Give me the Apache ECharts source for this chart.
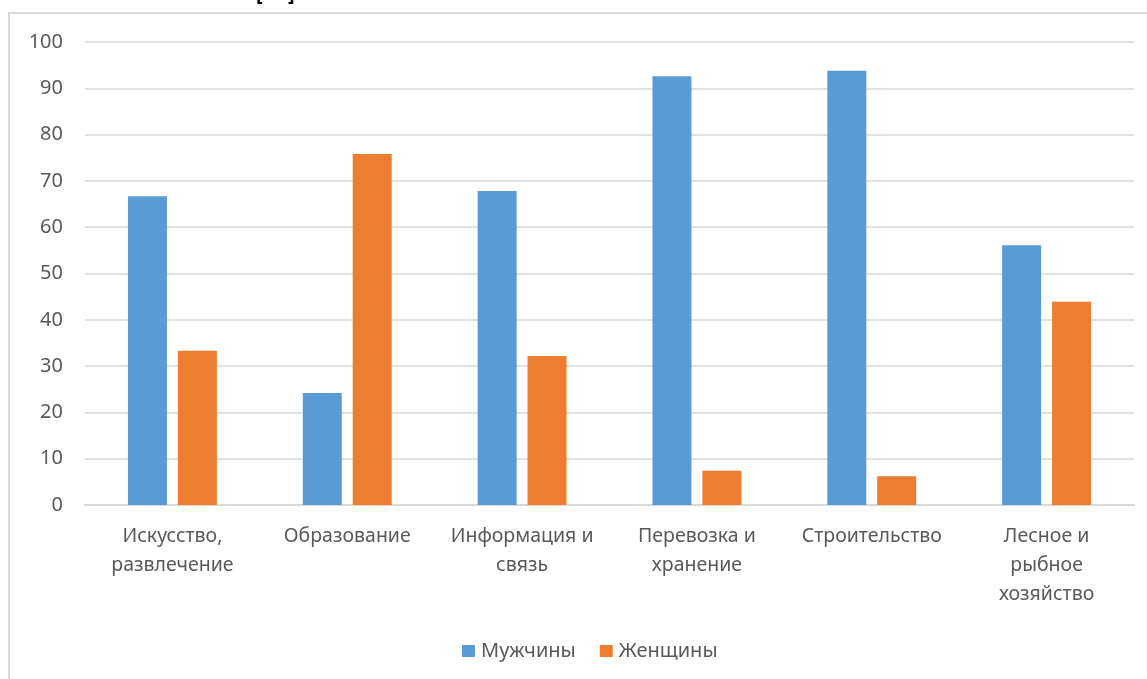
<!DOCTYPE html>
<html>
<head>
<meta charset="utf-8">
<script src="https://cdn.jsdelivr.net/npm/echarts@6/dist/echarts.min.js"></script>
<style>
html,body{margin:0;padding:0;background:#fff;}
#chart{width:1147px;height:679px;}
</style>
</head>
<body>
<div id="chart"></div>
<script>
const categories = ['Искусство,\nразвлечение', 'Образование', 'Информация и\nсвязь', 'Перевозка и\nхранение', 'Строительство', 'Лесное и\nрыбное\nхозяйство'];
const seriesNames = ['Мужчины', 'Женщины'];
const men = [66.7, 24.2, 67.8, 92.6, 93.8, 56.1];
const women = [33.3, 75.8, 32.2, 7.4, 6.2, 43.9];

const chart = echarts.init(document.getElementById('chart'));
const textColor = '#595959';
const font = '"Noto Sans", sans-serif';
chart.setOption({
  animation: false,
  backgroundColor: '#fff',
  graphic: [
    {type: 'rect', shape: {x: 9, y: 13, width: 1300, height: 800}, style: {fill: 'none', stroke: '#d9d9d9', lineWidth: 2}, z: -1},
    {type: 'text', left: 256, top: -15, style: {text: '[', fill: '#000', font: 'bold 20px "Noto Sans", sans-serif'}},
    {type: 'text', left: 288, top: -15, style: {text: ']', fill: '#000', font: 'bold 20px "Noto Sans", sans-serif'}}
  ],
  grid: {left: 85, right: 13, top: 42, bottom: 174},
  legend: {
    data: seriesNames,
    left: 457, top: 636,
    icon: 'rect', itemWidth: 13, itemHeight: 12, itemGap: 24,
    textStyle: {color: textColor, fontSize: 20, fontFamily: font, padding: [0, 0, 0, 1]}
  },
  xAxis: {
    type: 'category',
    data: categories,
    axisLine: {show: true, lineStyle: {color: '#d9d9d9', width: 2}},
    axisTick: {show: false},
    axisLabel: {color: textColor, fontSize: 19.5, fontFamily: font, lineHeight: 29, margin: 17, interval: 0}
  },
  yAxis: {
    type: 'value',
    min: 0, max: 100, interval: 10,
    axisLine: {show: false},
    axisTick: {show: false},
    axisLabel: {color: textColor, fontSize: 20, fontFamily: font, margin: 22},
    splitLine: {lineStyle: {color: '#d9d9d9', width: 1.5}}
  },
  series: [
    {name: seriesNames[0], type: 'bar', data: men, barWidth: 39, barGap: '28%', itemStyle: {color: '#5B9BD5'}},
    {name: seriesNames[1], type: 'bar', data: women, barWidth: 39, barGap: '28%', itemStyle: {color: '#ED7D31'}}
  ]
});
</script>
</body>
</html>
